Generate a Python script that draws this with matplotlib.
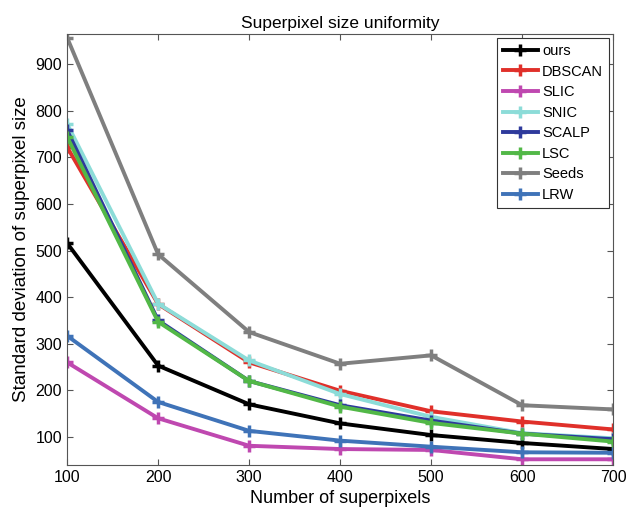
import matplotlib
matplotlib.use('Agg')
import matplotlib.pyplot as plt

plt.rcParams['font.family'] = ['Liberation Sans', 'DejaVu Sans']

# number of superpixels
n_sp = [100, 200, 300, 400, 500, 600, 700]

# std of superpixel size per method
ours = [516, 253, 170, 129, 104, 87, 74]
dbscan = [722, 385, 260, 199, 155, 133, 116]
slic = [260, 140, 81, 74, 72, 52, 52]
snic = [772, 386, 264, 192, 143, 108, 97]
scalp = [758, 350, 220, 168, 135, 107, 95]
lsc = [744, 347, 220, 165, 130, 107, 90]
seeds = [957, 492, 325, 257, 275, 168, 159]
lrw = [317, 175, 113, 92, 79, 67, 66]

names = ['ours', 'DBSCAN', 'SLIC', 'SNIC', 'SCALP', 'LSC', 'Seeds', 'LRW']
series = [ours, dbscan, slic, snic, scalp, lsc, seeds, lrw]
colors = ['#000000', '#e0302a', '#bf48b0', '#8cdcd8', '#2e3a9c',
          '#52b847', '#7f7f7f', '#3f73b8']

fig = plt.figure(figsize=(6.27, 5.2), dpi=100)
ax = fig.add_axes([0.107, 0.106, 0.871, 0.829])

for name, vals, c in zip(names, series, colors):
    ax.plot(n_sp, vals, color=c, lw=2.8, marker='+', ms=9, mew=2.5, label=name)

ax.set_xlim(100, 700)
ax.set_ylim(40, 965)
ax.set_xticks(n_sp)
ax.set_yticks(range(100, 1000, 100))
ax.tick_params(direction='in', top=True, right=True, labelsize=11.5,
               color='#555555', length=4)
for s in ax.spines.values():
    s.set_color('#555555')
    s.set_linewidth(0.8)

ax.set_title('Superpixel size uniformity', fontsize=12.5, pad=4)
ax.set_xlabel('Number of superpixels', fontsize=13)
ax.set_ylabel('Standard deviation of superpixel size', fontsize=13.5)

leg = ax.legend(loc='upper right', fontsize=10.5, fancybox=False,
                framealpha=1, edgecolor='#333333', handlelength=2.4,
                borderaxespad=0.3, labelspacing=0.45, handletextpad=0.3)
leg.get_frame().set_linewidth(0.8)

fig.savefig('out.png', dpi=100)
